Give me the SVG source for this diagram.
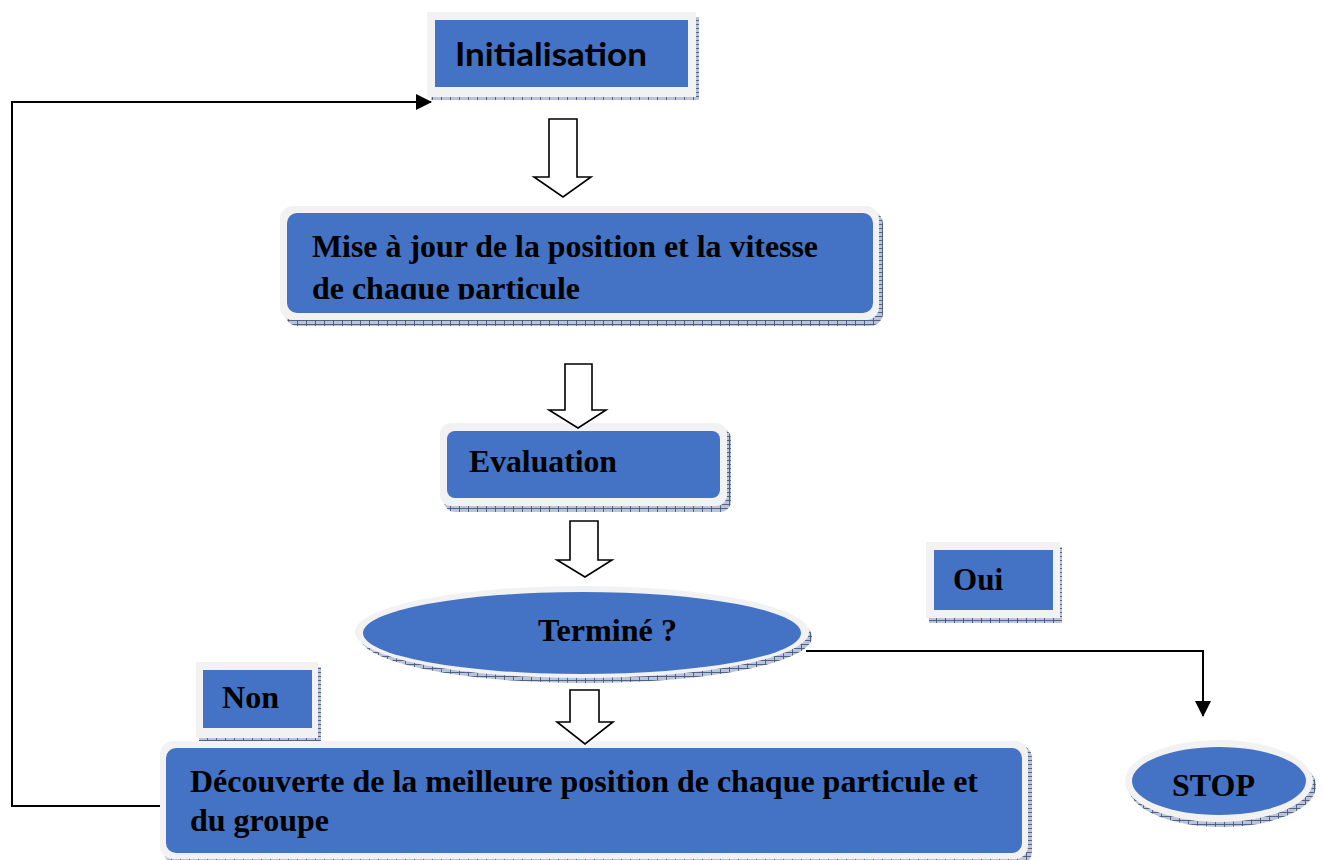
<svg xmlns="http://www.w3.org/2000/svg" width="1324" height="860" viewBox="0 0 1324 860">
  <style>
    .frame { fill: #f2f2f2; }
    .fill { fill: #4472c4; }
    .shadow { fill: url(#hatch); }
    .serif { font-family: "Liberation Serif", "Times New Roman", serif; font-weight: bold; font-size: 32px; fill: #000; }
    .sans { font-family: Lato, "Liberation Sans", sans-serif; font-weight: bold; font-size: 33px; fill: #000; }
    .block { fill: #fff; stroke: #000; stroke-width: 1.6; stroke-linejoin: miter; }
    .link { fill: none; stroke: #000; stroke-width: 2; }
  </style>
  <defs>
    <pattern id="hatch" width="9" height="4" patternUnits="userSpaceOnUse">
      <rect width="9" height="4" fill="#b9c3da"/>
      <path d="M0 0.5H9M0.5 0V4" stroke="#46587f" stroke-width="0.9"/>
    </pattern>
    <marker id="head" markerWidth="16" markerHeight="16" refX="15" refY="8" orient="auto" markerUnits="userSpaceOnUse">
      <path d="M0 0L16 8L0 16Z" fill="#000"/>
    </marker>
    <clipPath id="clipMise">
      <rect x="287" y="213" width="586" height="86.5"/>
    </clipPath>
  </defs>

  <rect width="1324" height="860" fill="#fff"/>

  <!-- Initialisation -->
  <g id="init">
    <rect class="shadow" x="431" y="17" width="268" height="83"/>
    <rect class="frame" x="427" y="12" width="269" height="85"/>
    <rect class="fill" x="435" y="20" width="253" height="67"/>
    <text class="sans" x="455" y="66" textLength="192" lengthAdjust="spacingAndGlyphs">Initialisation</text>
  </g>

  <!-- Mise à jour -->
  <g id="update">
    <rect class="shadow" x="285" y="211" width="598" height="115" rx="13"/>
    <rect class="frame" x="280" y="206" width="599" height="114" rx="13"/>
    <rect class="fill" x="287" y="213" width="586" height="100" rx="10"/>
    <g clip-path="url(#clipMise)">
      <text class="serif" x="312" y="257" textLength="506" lengthAdjust="spacingAndGlyphs">Mise à jour de la position et la vitesse</text>
      <text class="serif" x="312" y="299" textLength="268" lengthAdjust="spacingAndGlyphs">de chaque particule</text>
    </g>
  </g>

  <!-- Evaluation -->
  <g id="evaluation">
    <rect class="shadow" x="444" y="428" width="287" height="84" rx="11"/>
    <rect class="frame" x="440" y="423" width="287" height="83" rx="11"/>
    <rect class="fill" x="447" y="431" width="273" height="67" rx="8"/>
    <text class="serif" x="469" y="472" textLength="148" lengthAdjust="spacingAndGlyphs">Evaluation</text>
  </g>

  <!-- Terminé ? -->
  <g id="decision">
    <ellipse class="shadow" cx="586" cy="637" rx="226" ry="46"/>
    <ellipse class="frame" cx="582" cy="632" rx="227" ry="46"/>
    <ellipse class="fill" cx="582" cy="633" rx="219" ry="41"/>
    <text class="serif" x="538" y="641" textLength="139" lengthAdjust="spacingAndGlyphs">Terminé ?</text>
  </g>

  <!-- Oui -->
  <g id="yes">
    <rect class="shadow" x="929" y="547" width="133" height="76"/>
    <rect class="frame" x="926" y="542" width="134" height="76"/>
    <rect class="fill" x="934" y="550" width="119" height="60"/>
    <text class="serif" x="953" y="590" textLength="50" lengthAdjust="spacingAndGlyphs">Oui</text>
  </g>

  <!-- Non -->
  <g id="no">
    <rect class="shadow" x="199" y="667" width="122" height="74"/>
    <rect class="frame" x="196" y="662" width="122" height="76"/>
    <rect class="fill" x="203" y="670" width="109" height="58"/>
    <text class="serif" x="222" y="708" textLength="57" lengthAdjust="spacingAndGlyphs">Non</text>
  </g>

  <!-- STOP -->
  <g id="stop">
    <ellipse class="shadow" cx="1222" cy="786" rx="94" ry="41"/>
    <ellipse class="frame" cx="1219" cy="781" rx="94" ry="41"/>
    <ellipse class="fill" cx="1219" cy="781" rx="87" ry="34"/>
    <text class="serif" x="1172" y="796" textLength="83" lengthAdjust="spacingAndGlyphs">STOP</text>
  </g>

  <!-- Découverte -->
  <g id="discover">
    <rect class="shadow" x="164" y="745" width="868" height="120" rx="13"/>
    <rect class="frame" x="160" y="741" width="868" height="118" rx="13"/>
    <rect class="fill" x="166" y="748" width="856" height="105" rx="10"/>
    <text class="serif" x="190" y="792" textLength="788" lengthAdjust="spacingAndGlyphs">Découverte de la meilleure position de chaque particule et</text>
    <text class="serif" x="190" y="831">du groupe</text>
  </g>

  <!-- connectors, drawn over the node frames -->
  <g id="connectors">
    <polygon class="block" points="549,119 577,119 577,177 591,177 563,197 534,177 549,177"/>
    <polygon class="block" points="565,364 592,364 592,410 606,410 578,428 549,410 565,410"/>
    <polygon class="block" points="570,521 598,521 598,560 612,560 585,577 557,560 570,560"/>
    <polygon class="block" points="570,690 599,690 599,722 613,722 585,744 557,722 570,722"/>
    <path class="link" d="M806 651H1203V716" marker-end="url(#head)"/>
    <path class="link" d="M160 806H12V102H431" marker-end="url(#head)"/>
  </g>
</svg>
